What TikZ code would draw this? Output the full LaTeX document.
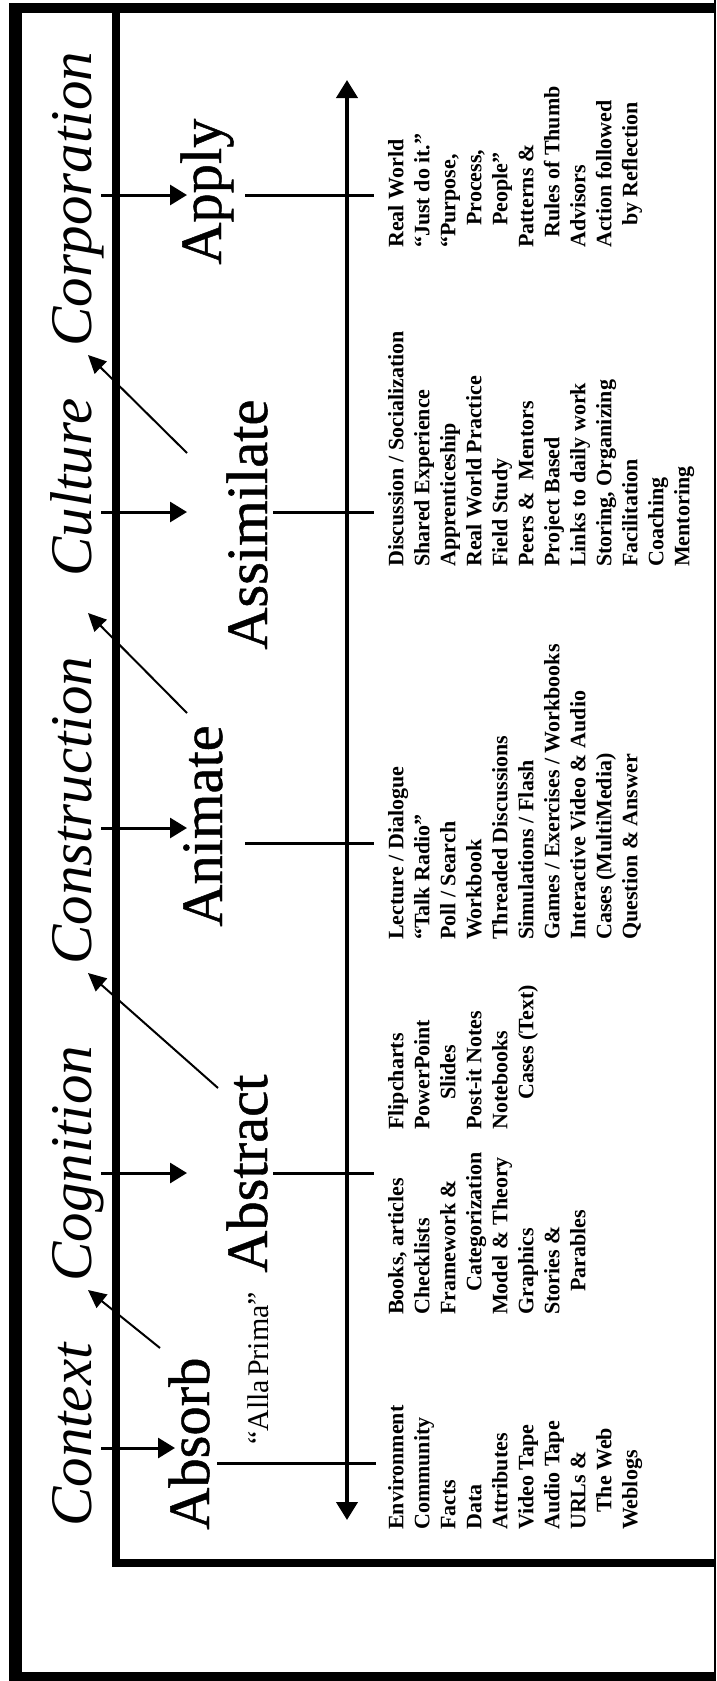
\documentclass[tikz,border=0pt]{standalone}
\usepackage{fontspec}
\setmainfont{Liberation Serif}
\newfontfamily\stagefont{Liberation Serif}[FakeBold=0.8]
\usetikzlibrary{arrows.meta}

\begin{document}
\begin{tikzpicture}[x=1pt, y=-1pt,
    stage/.style={rotate=90, anchor=base west, inner sep=0pt, font=\stagefont\fontsize{58.5}{58.5}\selectfont},
    ctx/.style={rotate=90, anchor=base west, inner sep=0pt, font=\fontsize{59}{59}\selectfont\itshape},
    items/.style={rotate=90, anchor=north west, inner sep=0pt, align=left, font=\fontsize{22}{26}\selectfont\bfseries},
    rung/.style={line width=3pt},
    into/.style={line width=3pt, -{Triangle[length=17pt,width=20pt]}},
    link/.style={line width=2pt, -{Triangle[length=18pt,width=17pt]}}]
    \useasboundingbox (0,0) rectangle (716,1681);

    % Frames
    \draw[line width=13pt] (15.5,3) -- (15.5,1681);
    \draw[line width=10pt] (9,8) -- (716,8);
    \draw[line width=9pt] (9,1676) -- (716,1676);
    \draw[line width=2pt] (715,0) -- (715,1681);
    \draw[line width=8pt] (116,8) -- (116,1563) -- (716,1563);

    % Axis
    \coordinate (axis-top) at (347,80);
    \coordinate (axis-bot) at (347,1520);
    \draw[line width=4pt, {Triangle[length=18pt,width=21pt]}-{Triangle[length=18pt,width=21pt]}] (axis-bot) -- (axis-top);

    % Context words
    \node[ctx] (context) at (91.5,1527) {Context};
    \node[ctx] (cognition) at (91.5,1282) {Cognition};
    \node[ctx] (construction) at (91.5,965) {Construction};
    \node[ctx] (culture) at (91.5,577) {Culture};
    \node[ctx] (corporation) at (91.5,347) {Corporation};

    % Stages
    \node[stage] (absorb) at (209,1530) {Absorb};
    \node[stage] (abstract) at (267,1273) {Abstract};
    \node[stage] (animate) at (222,927) {Animate};
    \node[stage] (assimilate) at (267,650) {Assimilate};
    \node[stage] (apply) at (221,265) {Apply};
    \node[rotate=90, anchor=base west, inner sep=0pt, font=\fontsize{30}{30}\selectfont] (allaprima) at (268,1445) {``Alla\hspace{3pt}Prima''};

    % Rungs: in-arrows
    \coordinate (absorb-w) at (101,1448);    \coordinate (absorb-t) at (175,1448);
    \coordinate (abstract-w) at (101,1173);  \coordinate (abstract-t) at (187,1173);
    \coordinate (animate-w) at (101,828);    \coordinate (animate-t) at (187,828);
    \coordinate (assimilate-w) at (101,512); \coordinate (assimilate-t) at (187,512);
    \coordinate (apply-w) at (101,195);      \coordinate (apply-t) at (187,195);
    \draw[into] (absorb-w) -- (absorb-t);
    \draw[into] (abstract-w) -- (abstract-t);
    \draw[into] (animate-w) -- (animate-t);
    \draw[into] (assimilate-w) -- (assimilate-t);
    \draw[into] (apply-w) -- (apply-t);

    % Rungs: across the axis
    \coordinate (absorb-a) at (217,1463);    \coordinate (absorb-e) at (376,1463);
    \coordinate (abstract-a) at (273,1173);  \coordinate (abstract-e) at (374,1173);
    \coordinate (animate-a) at (245,843);    \coordinate (animate-e) at (374,843);
    \coordinate (assimilate-a) at (273,512); \coordinate (assimilate-e) at (374,512);
    \coordinate (apply-a) at (245,195);      \coordinate (apply-e) at (374,195);
    \draw[rung] (absorb-a) -- (absorb-e);
    \draw[rung] (abstract-a) -- (abstract-e);
    \draw[rung] (animate-a) -- (animate-e);
    \draw[rung] (assimilate-a) -- (assimilate-e);
    \draw[rung] (apply-a) -- (apply-e);

    % Diagonal links to the next context
    \coordinate (absorb-d) at (160,1348);     \coordinate (cognition-d) at (88,1290);
    \coordinate (abstract-d) at (218,1088);   \coordinate (construction-d) at (88,973);
    \coordinate (animate-d) at (187,713);     \coordinate (culture-d) at (88,613);
    \coordinate (assimilate-d) at (187,453);  \coordinate (corporation-d) at (88,355);
    \draw[link] (absorb-d) -- (cognition-d);
    \draw[link] (abstract-d) -- (construction-d);
    \draw[link] (animate-d) -- (culture-d);
    \draw[link] (assimilate-d) -- (corporation-d);

    % Lists
    \node[items] (absorb-list) at (388,1530) {Environment\\Community\\Facts\\Data\\Attributes\\Video Tape\\Audio Tape\\URLs \&\\\hspace*{17pt}The Web\\Weblogs};
    \node[items] (abstract-list) at (388,1315) {Books, articles\\Checklists\\Framework \&\\\hspace*{23pt}Categorization\\Model \& Theory\\Graphics\\Stories \&\\\hspace*{23pt}Parables};
    \node[items] (abstract-list2) at (388,1130) {Flipcharts\\PowerPoint\\\hspace*{30pt}Slides\\Post-it Notes\\Notebooks\\\hspace*{30pt}Cases (Text)};
    \node[items] (animate-list) at (388,940) {Lecture / Dialogue\\``Talk Radio''\\Poll / Search\\Workbook\\Threaded Discussions\\Simulations / Flash\\Games / Exercises / Workbooks\\Interactive Video \& Audio\\Cases (MultiMedia)\\Question \& Answer};
    \node[items] (assimilate-list) at (388,567) {Discussion / Socialization\\Shared Experience\\Apprenticeship\\Real World Practice\\Field Study\\Peers \& \ Mentors\\Project Based\\Links to daily work\\Storing, Organizing\\Facilitation\\Coaching\\Mentoring};
    \node[items] (apply-list) at (388,248) {Real World\\``Just do it.''\\``Purpose,\\\hspace*{22pt}Process,\\\hspace*{22pt}People''\\Patterns \&\\\hspace*{10pt}Rules of Thumb\\Advisors\\Action followed\\\hspace*{22pt}by Reflection};
\end{tikzpicture}
\end{document}
